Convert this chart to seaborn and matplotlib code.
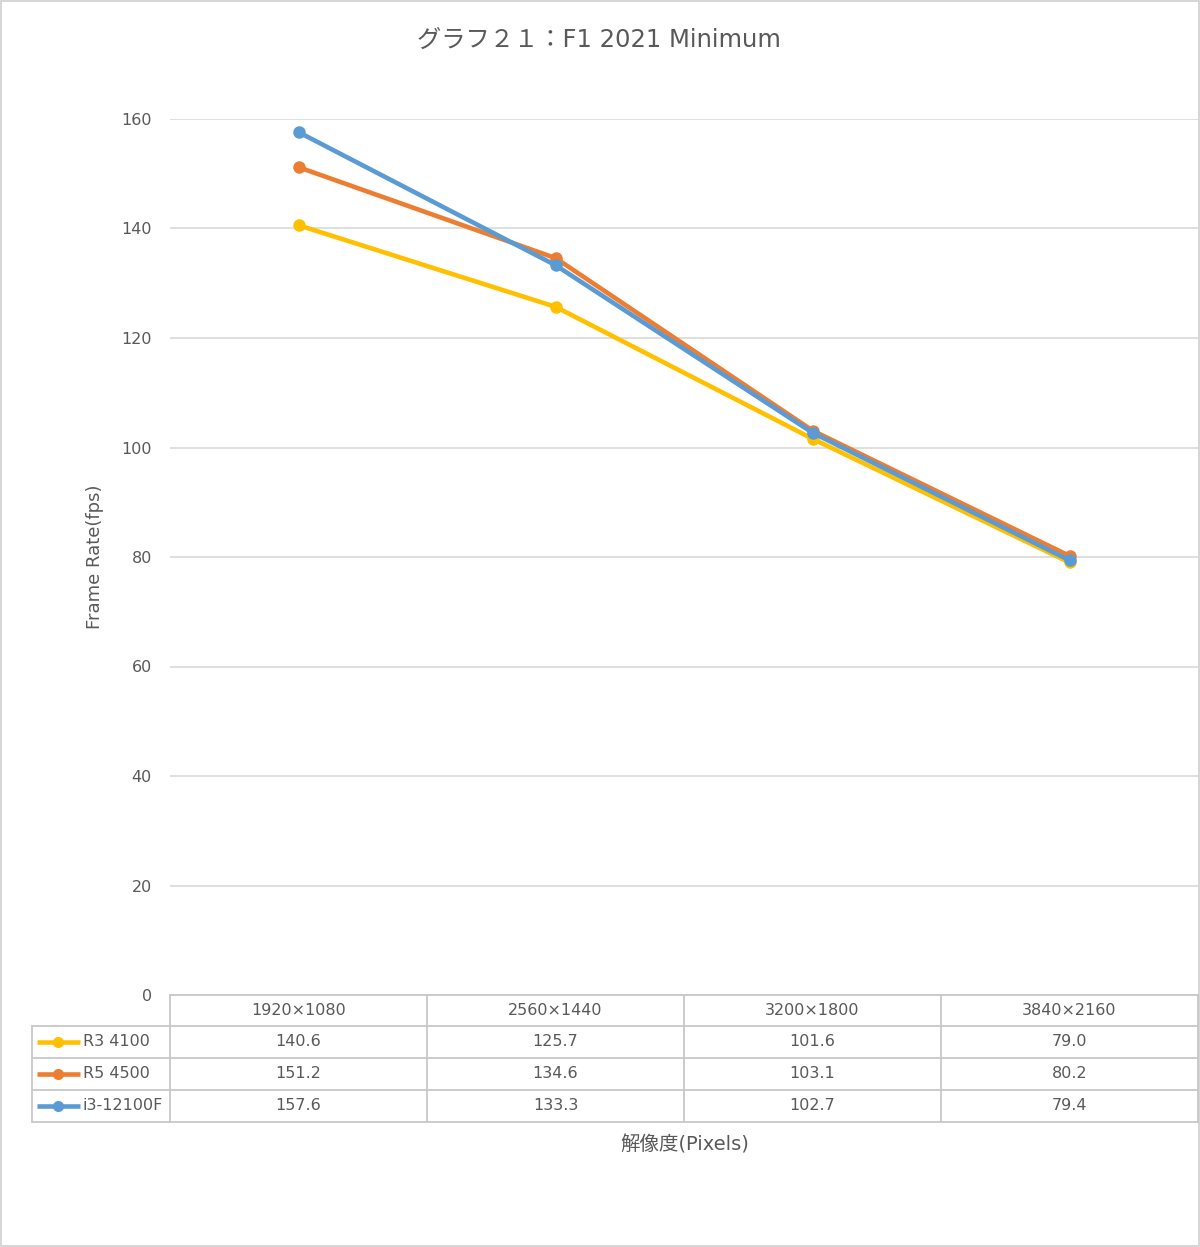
import matplotlib
matplotlib.use("Agg")
import matplotlib.pyplot as plt
import seaborn as sns
import pandas as pd
from matplotlib.lines import Line2D
from matplotlib.patches import Rectangle

resolutions = ["1920×1080", "2560×1440", "3200×1800", "3840×2160"]
series_names = ["R3 4100", "R5 4500", "i3-12100F"]
r3_4100 = [140.6, 125.7, 101.6, 79.0]
r5_4500 = [151.2, 134.6, 103.1, 80.2]
i3_12100f = [157.6, 133.3, 102.7, 79.4]
yticks = [0, 20, 40, 60, 80, 100, 120, 140, 160]
colors = ["#FFC000", "#ED7D31", "#5B9BD5"]
title = "グラフ２１：F1 2021 Minimum"
ylabel = "Frame Rate(fps)"
xlabel = "解像度(Pixels)"

values = [r3_4100, r5_4500, i3_12100f]
rows = []
for name, vals in zip(series_names, values):
    for res, v in zip(resolutions, vals):
        rows.append({"res": res, "cpu": name, "fps": v})
df = pd.DataFrame(rows)

sns.set_theme(style="white")
plt.rcParams["font.family"] = ["DejaVu Sans", "Noto Sans CJK JP"]
TXT = "#595959"
GRID = "#D9D9D9"
TLINE = "#C8C8C8"

W, H = 1200, 1247
fig = plt.figure(figsize=(W / 100, H / 100), dpi=100)
fig.patch.set_facecolor("white")

def fx(x):
    return x / W

def fy(y):
    return 1 - y / H

ax = fig.add_axes([fx(170), fy(995), fx(1198) - fx(170), fy(119) - fy(995)])
sns.lineplot(data=df, x="res", y="fps", hue="cpu", palette=colors,
             hue_order=series_names, marker="o", markersize=9, linewidth=3.3,
             markeredgewidth=0, ax=ax, legend=False, sort=False)
ax.set_xlim(-0.5, 3.5)
ax.set_ylim(0, 160)
ax.set_yticks(yticks)
ax.set_yticklabels([str(t) for t in yticks], color=TXT, fontsize=11.5)
ax.tick_params(axis="y", length=0, pad=13)
ax.tick_params(axis="x", length=0, labelbottom=False)
ax.set_xlabel("")
ax.set_ylabel("")
for s in ax.spines.values():
    s.set_visible(False)
ax.grid(axis="y", color=GRID, linewidth=1.2)
ax.grid(axis="x", visible=False)
ax.set_axisbelow(True)

# titles / labels
fig.text(fx(599), fy(40), title, ha="center", va="center", fontsize=17.5, color=TXT)
fig.text(fx(95), fy(557), ylabel, ha="center", va="center", rotation=90, fontsize=13, color=TXT)
fig.text(fx(685), fy(1145), xlabel, ha="center", va="center", fontsize=14, color=TXT)

# data table
col_edges = [170 + i * (1198 - 170) / 4 for i in range(5)]
row_edges = [995, 1026, 1058, 1090, 1122]
left = 32

def hline(x0, x1, y):
    fig.add_artist(Line2D([fx(x0), fx(x1)], [fy(y), fy(y)], color=TLINE, linewidth=1.3))

def vline(x, y0, y1):
    fig.add_artist(Line2D([fx(x), fx(x)], [fy(y0), fy(y1)], color=TLINE, linewidth=1.3))

hline(170, 1198, row_edges[0])
for y in row_edges[1:]:
    hline(left, 1198, y)
for x in col_edges:
    vline(x, row_edges[0], row_edges[-1])
vline(left, row_edges[1], row_edges[-1])

for i, res in enumerate(resolutions):
    cx = (col_edges[i] + col_edges[i + 1]) / 2
    cy = (row_edges[0] + row_edges[1]) / 2
    fig.text(fx(cx), fy(cy), res, ha="center", va="center", fontsize=11.5, color=TXT)

for r, (name, vals, c) in enumerate(zip(series_names, values, colors)):
    cy = (row_edges[r + 1] + row_edges[r + 2]) / 2
    fig.add_artist(Line2D([fx(37), fx(80)], [fy(cy), fy(cy)], color=c, linewidth=3.3,
                          solid_capstyle="butt"))
    fig.add_artist(Line2D([fx(58)], [fy(cy)], color=c, marker="o", markersize=8,
                          markeredgewidth=0))
    fig.text(fx(83), fy(cy), name, ha="left", va="center", fontsize=11.5, color=TXT)
    for i, v in enumerate(vals):
        cx = (col_edges[i] + col_edges[i + 1]) / 2
        fig.text(fx(cx), fy(cy), f"{v:.1f}", ha="center", va="center", fontsize=11.5, color=TXT)

# outer border
fig.add_artist(Rectangle((fx(1), fy(1246)), fx(1198), fy(1) - fy(1246),
                         fill=False, edgecolor="#D0D0D0", linewidth=1.2))

fig.savefig("out.png", dpi=100, facecolor="white")
